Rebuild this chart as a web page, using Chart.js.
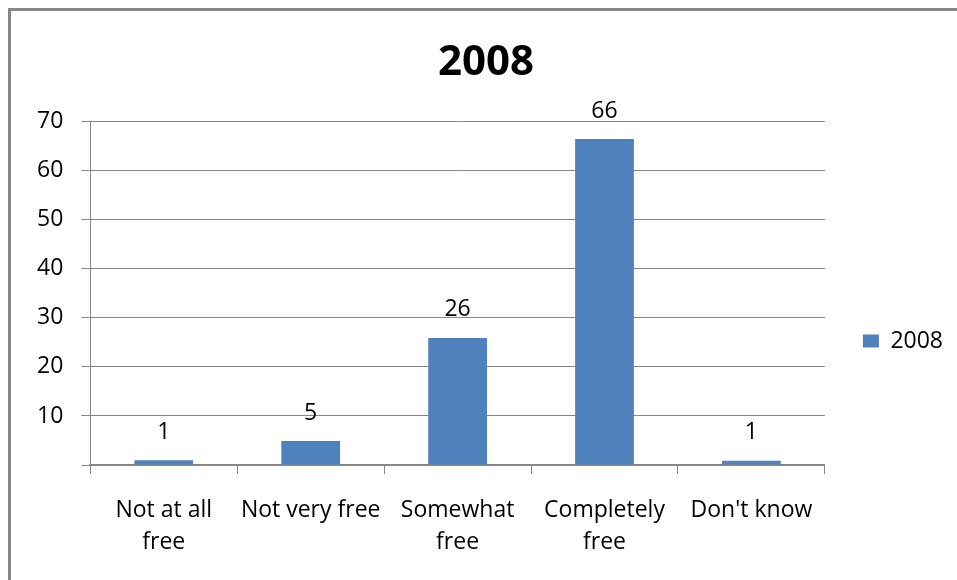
<!DOCTYPE html>
<html>
<head>
<meta charset="utf-8">
<script src="https://cdn.jsdelivr.net/npm/chart.js@4"></script>
<style>
  html, body { margin: 0; padding: 0; background: #fff; width: 957px; height: 580px; overflow: hidden; }
  #frame { position: absolute; left: 8px; top: 8px; width: 980px; height: 600px; border-left: 3px solid #868686; border-top: 3px solid #868686; }
  #wrap { position: absolute; left: 0; top: 0; width: 957px; height: 580px; }
</style>
</head>
<body>
<div id="frame"></div>
<div id="wrap"><canvas id="grafico"></canvas></div>
<script>
const titulo = '2008';
const categorias = ['Not at all free', 'Not very free', 'Somewhat free', 'Completely free', "Don't know"];
const rotulosEixo = [['Not at all', 'free'], ['Not very free'], ['Somewhat', 'free'], ['Completely', 'free'], ["Don't know"]];
const valores = [1.0, 4.9, 25.9, 66.4, 0.9];
const serie = '2008';

const fonte = "'Open Sans', 'Liberation Sans', sans-serif";
const cinza = '#868686';

// rótulos de valor em cima das barras
const rotulosValor = {
  id: 'rotulosValor',
  afterDatasetsDraw(chart) {
    const c = chart.ctx;
    const meta = chart.getDatasetMeta(0);
    c.save();
    c.font = '23px ' + fonte;
    c.fillStyle = '#000';
    c.textAlign = 'center';
    c.textBaseline = 'middle';
    meta.data.forEach((bar, i) => {
      c.fillText(Math.round(valores[i]), bar.x, bar.y - 28);
    });
    c.restore();
  }
};

const ctx = document.getElementById('grafico').getContext('2d');
const grafico = new Chart(ctx, {
  type: 'bar',
  data: {
    labels: rotulosEixo,
    datasets: [{ label: serie, data: valores, backgroundColor: '#4F81BD', borderWidth: 0, barPercentage: 0.4, categoryPercentage: 1.0 }]
  },
  options: {
    responsive: true,
    maintainAspectRatio: false,
    animation: false,
    layout: { padding: { left: 19, right: 4, top: 38, bottom: 2 } },
    plugins: {
      title: { display: true, text: titulo, color: '#000', font: { family: fonte, size: 42, weight: 'bold' }, padding: { top: 0, bottom: 33 } },
      legend: {
        display: true, position: 'right',
        // título vazio só para descer a legenda
        title: { display: true, text: ' ', font: { size: 10 }, padding: { top: 54, bottom: 0 } },
        labels: { boxWidth: 16, boxHeight: 13, color: '#000', font: { family: fonte, size: 23 }, padding: 38 }
      },
      tooltip: { enabled: false }
    },
    scales: {
      x: {
        grid: { display: true, drawOnChartArea: false, drawTicks: true, tickLength: 9, color: cinza, offset: true },
        border: { color: cinza, width: 2 },
        ticks: { color: '#000', font: { family: fonte, size: 23, lineHeight: 1.39 }, padding: 20, maxRotation: 0, autoSkip: false }
      },
      y: {
        min: 0, max: 70,
        grid: { color: cinza, lineWidth: 1, tickLength: 9 },
        border: { color: cinza, width: 1 },
        ticks: {
          stepSize: 10, color: '#000', font: { family: fonte, size: 23 }, padding: 18,
          callback: v => v === 0 ? '' : v
        }
      }
    }
  },
  plugins: [rotulosValor]
});
</script>
</body>
</html>
